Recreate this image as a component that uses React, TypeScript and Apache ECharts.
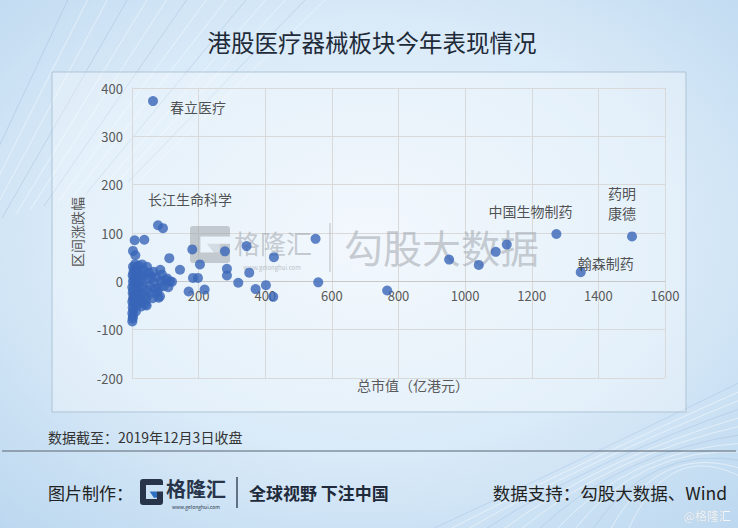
import React, { useEffect, useRef } from "react";
import * as echarts from "echarts";

// ---- data ----
const xTickMax = 1600;
const xTickStep = 200;
const yTickMin = -200;
const yTickMax = 400;
const yTickStep = 100;

const labeledNames = ["春立医疗", "长江生命科学", "中国生物制药", "药明\n康德", "翰森制药"];
const labeledCap = [63, 78, 1274, 1501, 1347];
const labeledChange = [373, 116, 98, 93, 19];

const otherCap = [
  93, 766, 952, 1041, 1092, 1125, 551, 559, 426, 424, 402, 371, 352, 344, 319, 285, 285, 279,
  218, 204, 198, 183, 181, 170, 144, 112, 37, 8, 3, 10,
  1, 2, 3, 1, 4, 2, 5, 1, 3, 6, 2, 4, 1, 5, 3, 6, 2, 4, 7, 3, 9,
  12, 14, 11, 15, 13, 16, 12, 17, 14, 20, 22, 19, 23, 21, 24, 20,
  28, 30, 27, 32, 29, 33, 30, 36, 38, 40, 42, 44, 45, 47, 48, 50,
  53, 56, 58, 62, 64, 67, 70, 73, 76, 80, 84, 80, 85, 88, 90, 95, 100, 105, 109, 114, 120,
];
const otherChange = [
  110, -19, 45, 34, 61, 76, 88, -2, 50, -32, -8, -16, 18, 73, -3, 26, 12, 62,
  -17, 35, 7, 7, 66, -21, 24, 48, 86, 85, 63, 54,
  -83, -77, -72, -66, -60, -54, -48, -42, -36, -30, -24, -18, -12, -6, 0, 6, 12, 18, 24, 30, 35,
  -62, -50, -40, -28, -16, -4, 8, 20, 28, -45, -33, -20, -8, 4, 15, 32,
  -52, -41, -25, -12, 2, 12, 35, 22, -30, -48, -38, -50, 30, -18, 5, 18,
  -8, -25, 10, -35, 20, -2, -15, 8, -22, -34, -31, -14, 24, 0, 14, -10, 3, 6, -12, 0, -1,
];

// label placement (styling)
const labelOffsets: [number, number][] = [
  [45, 6],
  [32, -26],
  [-26, -23],
  [-10, -33],
  [25, -9],
];

const W = 738;
const H = 528;
const GRID_TOP = 88;
const GRID_BOTTOM_Y = 378;
const CJK = '"Noto Sans CJK SC", "Noto Sans", sans-serif';

function gIcon(x: number, y: number, w: number, h: number, color: string, accent: string, z: number) {
  const t = w * 0.26;
  const s = { fill: color };
  return [
    { type: "rect", z, shape: { x, y, width: w, height: t, r: [3, 3, 0, 0] }, style: s },
    { type: "rect", z, shape: { x, y: y + t, width: t, height: h - 2 * t }, style: s },
    { type: "rect", z, shape: { x, y: y + h - t, width: w, height: t, r: [0, 0, 3, 3] }, style: s },
    { type: "rect", z, shape: { x: x + w - t, y: y + h * 0.48, width: t, height: h * 0.52 - t }, style: s },
    {
      type: "polygon",
      z,
      shape: {
        points: [
          [x + w * 0.42, y + h * 0.48],
          [x + w - t, y + h * 0.48],
          [x + w - t, y + h * 0.72],
          [x + w * 0.6, y + h * 0.72],
        ],
      },
      style: { fill: accent },
    },
  ];
}

function decoLines() {
  const els: any[] = [];
  for (let i = 0; i < 14; i++) {
    els.push({
      type: "line",
      z: -90,
      silent: true,
      shape: { x1: -40 + i * 14, y1: 230 - i * 4, x2: 70 + i * 20, y2: -5 },
      style: { stroke: i % 3 === 0 ? "rgba(130,165,205,0.35)" : "rgba(255,255,255,0.6)", lineWidth: 0.8 },
    });
  }
  for (let i = 0; i < 12; i++) {
    els.push({
      type: "bezierCurve",
      z: -90,
      silent: true,
      shape: {
        x1: 430 + i * 18,
        y1: 530,
        cpx1: 560 + i * 10,
        cpy1: 470 - i * 3,
        x2: 745,
        y2: 380 + i * 9,
      },
      style: { stroke: i % 3 === 0 ? "rgba(130,165,205,0.3)" : "rgba(255,255,255,0.6)", lineWidth: 0.8, fill: "none" },
    });
  }
  return els;
}

export default function App() {
  const ref = useRef<HTMLDivElement>(null);

  useEffect(() => {
    if (!ref.current) return;
    const chart = echarts.init(ref.current, null, { renderer: "svg" });

    const labeledData = labeledNames.map((n, i) => ({
      name: n,
      value: [labeledCap[i], labeledChange[i]],
      label: {
        show: true,
        position: "inside",
        formatter: n,
        offset: labelOffsets[i],
        color: "#262626",
        fontSize: 14,
        fontFamily: CJK,
        lineHeight: 20,
        align: "center",
      },
    }));
    const otherData = otherCap.map((c, i) => [c, otherChange[i]]);

    // pixel position of y = 0 inside the grid, used to lift the x axis onto the zero line
    const gridH = GRID_BOTTOM_Y - GRID_TOP;
    const zeroY = GRID_TOP + (gridH * (yTickMax - 0)) / (yTickMax - yTickMin);
    const xAxisOffset = -(GRID_BOTTOM_Y - zeroY);

    const graphic: any[] = [
      {
        type: "rect",
        z: -100,
        silent: true,
        shape: { x: 0, y: 0, width: W, height: H },
        style: {
          fill: new echarts.graphic.RadialGradient(0.5, 0.45, 0.75, [
            { offset: 0, color: "#edf5fc" },
            { offset: 0.55, color: "#d9eaf8" },
            { offset: 1, color: "#bbd7ef" },
          ]),
        },
      },
      ...decoLines(),
      {
        type: "rect",
        z: -80,
        silent: true,
        shape: { x: 52, y: 72, width: 634, height: 340 },
        style: { fill: "rgba(255,255,255,0.3)", stroke: "rgba(170,192,210,0.9)", lineWidth: 1 },
      },
      {
        type: "text",
        z: 5,
        x: 372,
        y: 42,
        style: {
          text: "港股医疗器械板块今年表现情况",
          fontSize: 23.5,
          fontFamily: CJK,
          fill: "#1e2a38",
          textAlign: "center",
          textVerticalAlign: "middle",
        },
      },
      {
        type: "text",
        z: 5,
        x: 77,
        y: 232,
        rotation: Math.PI / 2,
        style: {
          text: "区间涨跌幅",
          fontSize: 14,
          fontFamily: CJK,
          fill: "#595959",
          textAlign: "center",
          textVerticalAlign: "middle",
        },
      },
      {
        type: "text",
        z: 5,
        x: 413,
        y: 385,
        style: {
          text: "总市值（亿港元）",
          fontSize: 14,
          fontFamily: CJK,
          fill: "#595959",
          textAlign: "center",
          textVerticalAlign: "middle",
        },
      },
      // watermark
      ...gIcon(190, 226, 40, 37, "rgba(160,165,172,0.55)", "rgba(160,165,172,0.3)", 1),
      {
        type: "text",
        z: 1,
        x: 234,
        y: 242,
        style: {
          text: "格隆汇",
          fontSize: 26,
          fontFamily: CJK,
          fill: "rgba(160,165,172,0.55)",
          textAlign: "left",
          textVerticalAlign: "middle",
        },
      },
      {
        type: "text",
        z: 1,
        x: 272,
        y: 267,
        style: {
          text: "www.gelonghui.com",
          fontSize: 6,
          fontFamily: CJK,
          fill: "rgba(160,165,172,0.7)",
          textAlign: "center",
          textVerticalAlign: "middle",
        },
      },
      {
        type: "line",
        z: 1,
        shape: { x1: 330, y1: 223, x2: 330, y2: 272 },
        style: { stroke: "rgba(160,165,172,0.45)", lineWidth: 1.5 },
      },
      {
        type: "text",
        z: 1,
        x: 344,
        y: 246,
        style: {
          text: "勾股大数据",
          fontSize: 39,
          fontFamily: CJK,
          fill: "rgba(160,165,172,0.55)",
          textAlign: "left",
          textVerticalAlign: "middle",
        },
      },
      // footer
      {
        type: "text",
        z: 5,
        x: 48,
        y: 437,
        style: {
          text: "数据截至：2019年12月3日收盘",
          fontSize: 14,
          fontFamily: CJK,
          fill: "#333",
          textAlign: "left",
          textVerticalAlign: "middle",
        },
      },
      {
        type: "line",
        z: 5,
        shape: { x1: 2, y1: 451, x2: 736, y2: 451 },
        style: { stroke: "#5a6570", lineWidth: 1 },
      },
      {
        type: "text",
        z: 5,
        x: 48,
        y: 492,
        style: {
          text: "图片制作：",
          fontSize: 17,
          fontFamily: CJK,
          fill: "#222",
          textAlign: "left",
          textVerticalAlign: "middle",
        },
      },
      ...gIcon(140, 479, 23, 26, "#27344a", "#2f6fc1", 5),
      {
        type: "text",
        z: 5,
        x: 166,
        y: 488,
        style: {
          text: "格隆汇",
          fontSize: 20,
          fontWeight: "bold",
          fontFamily: CJK,
          fill: "#27344a",
          textAlign: "left",
          textVerticalAlign: "middle",
        },
      },
      {
        type: "text",
        z: 5,
        x: 196,
        y: 506,
        style: {
          text: "www.gelonghui.com",
          fontSize: 5,
          fontFamily: CJK,
          fill: "#27344a",
          textAlign: "center",
          textVerticalAlign: "middle",
        },
      },
      {
        type: "line",
        z: 5,
        shape: { x1: 237, y1: 477, x2: 237, y2: 508 },
        style: { stroke: "#27344a", lineWidth: 1.3 },
      },
      {
        type: "text",
        z: 5,
        x: 249,
        y: 492,
        style: {
          text: "全球视野 下注中国",
          fontSize: 17,
          fontWeight: "bold",
          fontFamily: CJK,
          fill: "#1f2a3a",
          textAlign: "left",
          textVerticalAlign: "middle",
        },
      },
      {
        type: "text",
        z: 5,
        x: 727,
        y: 492,
        style: {
          text: "数据支持：勾股大数据、Wind",
          fontSize: 17.5,
          fontFamily: CJK,
          fill: "#222",
          textAlign: "right",
          textVerticalAlign: "middle",
        },
      },
      {
        type: "text",
        z: 5,
        x: 731,
        y: 515,
        style: {
          text: "@格隆汇",
          fontSize: 12,
          fontFamily: CJK,
          fill: "#f4f7fa",
          textShadowColor: "rgba(0,0,0,0.45)",
          textShadowBlur: 1.5,
          textAlign: "right",
          textVerticalAlign: "middle",
        },
      },
    ];

    chart.setOption({
      animation: false,
      backgroundColor: "transparent",
      grid: { left: 132, right: W - 665, top: GRID_TOP, bottom: H - GRID_BOTTOM_Y, containLabel: false },
      xAxis: [
        {
          type: "value",
          min: 0,
          max: xTickMax,
          interval: xTickStep,
          position: "bottom",
          offset: xAxisOffset,
          axisLine: { show: true, onZero: false, lineStyle: { color: "#c8c8c8" } },
          axisTick: { show: false },
          axisLabel: {
            color: "#595959",
            fontSize: 13,
            fontFamily: CJK,
            margin: 8,
            formatter: (v: number) => String(v),
          },
          splitLine: { show: true, lineStyle: { color: "#d9d9d9", width: 1 } },
        },
      ],
      yAxis: {
        type: "value",
        min: yTickMin,
        max: yTickMax,
        interval: yTickStep,
        axisLine: { show: true, onZero: false, lineStyle: { color: "#d9d9d9" } },
        axisTick: { show: false },
        axisLabel: { color: "#595959", fontSize: 13, fontFamily: CJK, margin: 9 },
        splitLine: { show: true, lineStyle: { color: "#d9d9d9", width: 1 } },
      },
      graphic,
      series: [
        {
          type: "scatter",
          z: 3,
          symbolSize: 10,
          itemStyle: { color: "#3865b8" },
          data: [...otherData, ...labeledData],
        },
      ],
    });

    return () => chart.dispose();
  }, []);

  return (
    <div
      ref={ref}
      style={{ position: "absolute", left: 0, top: 0, width: W, height: H }}
    />
  );
}
